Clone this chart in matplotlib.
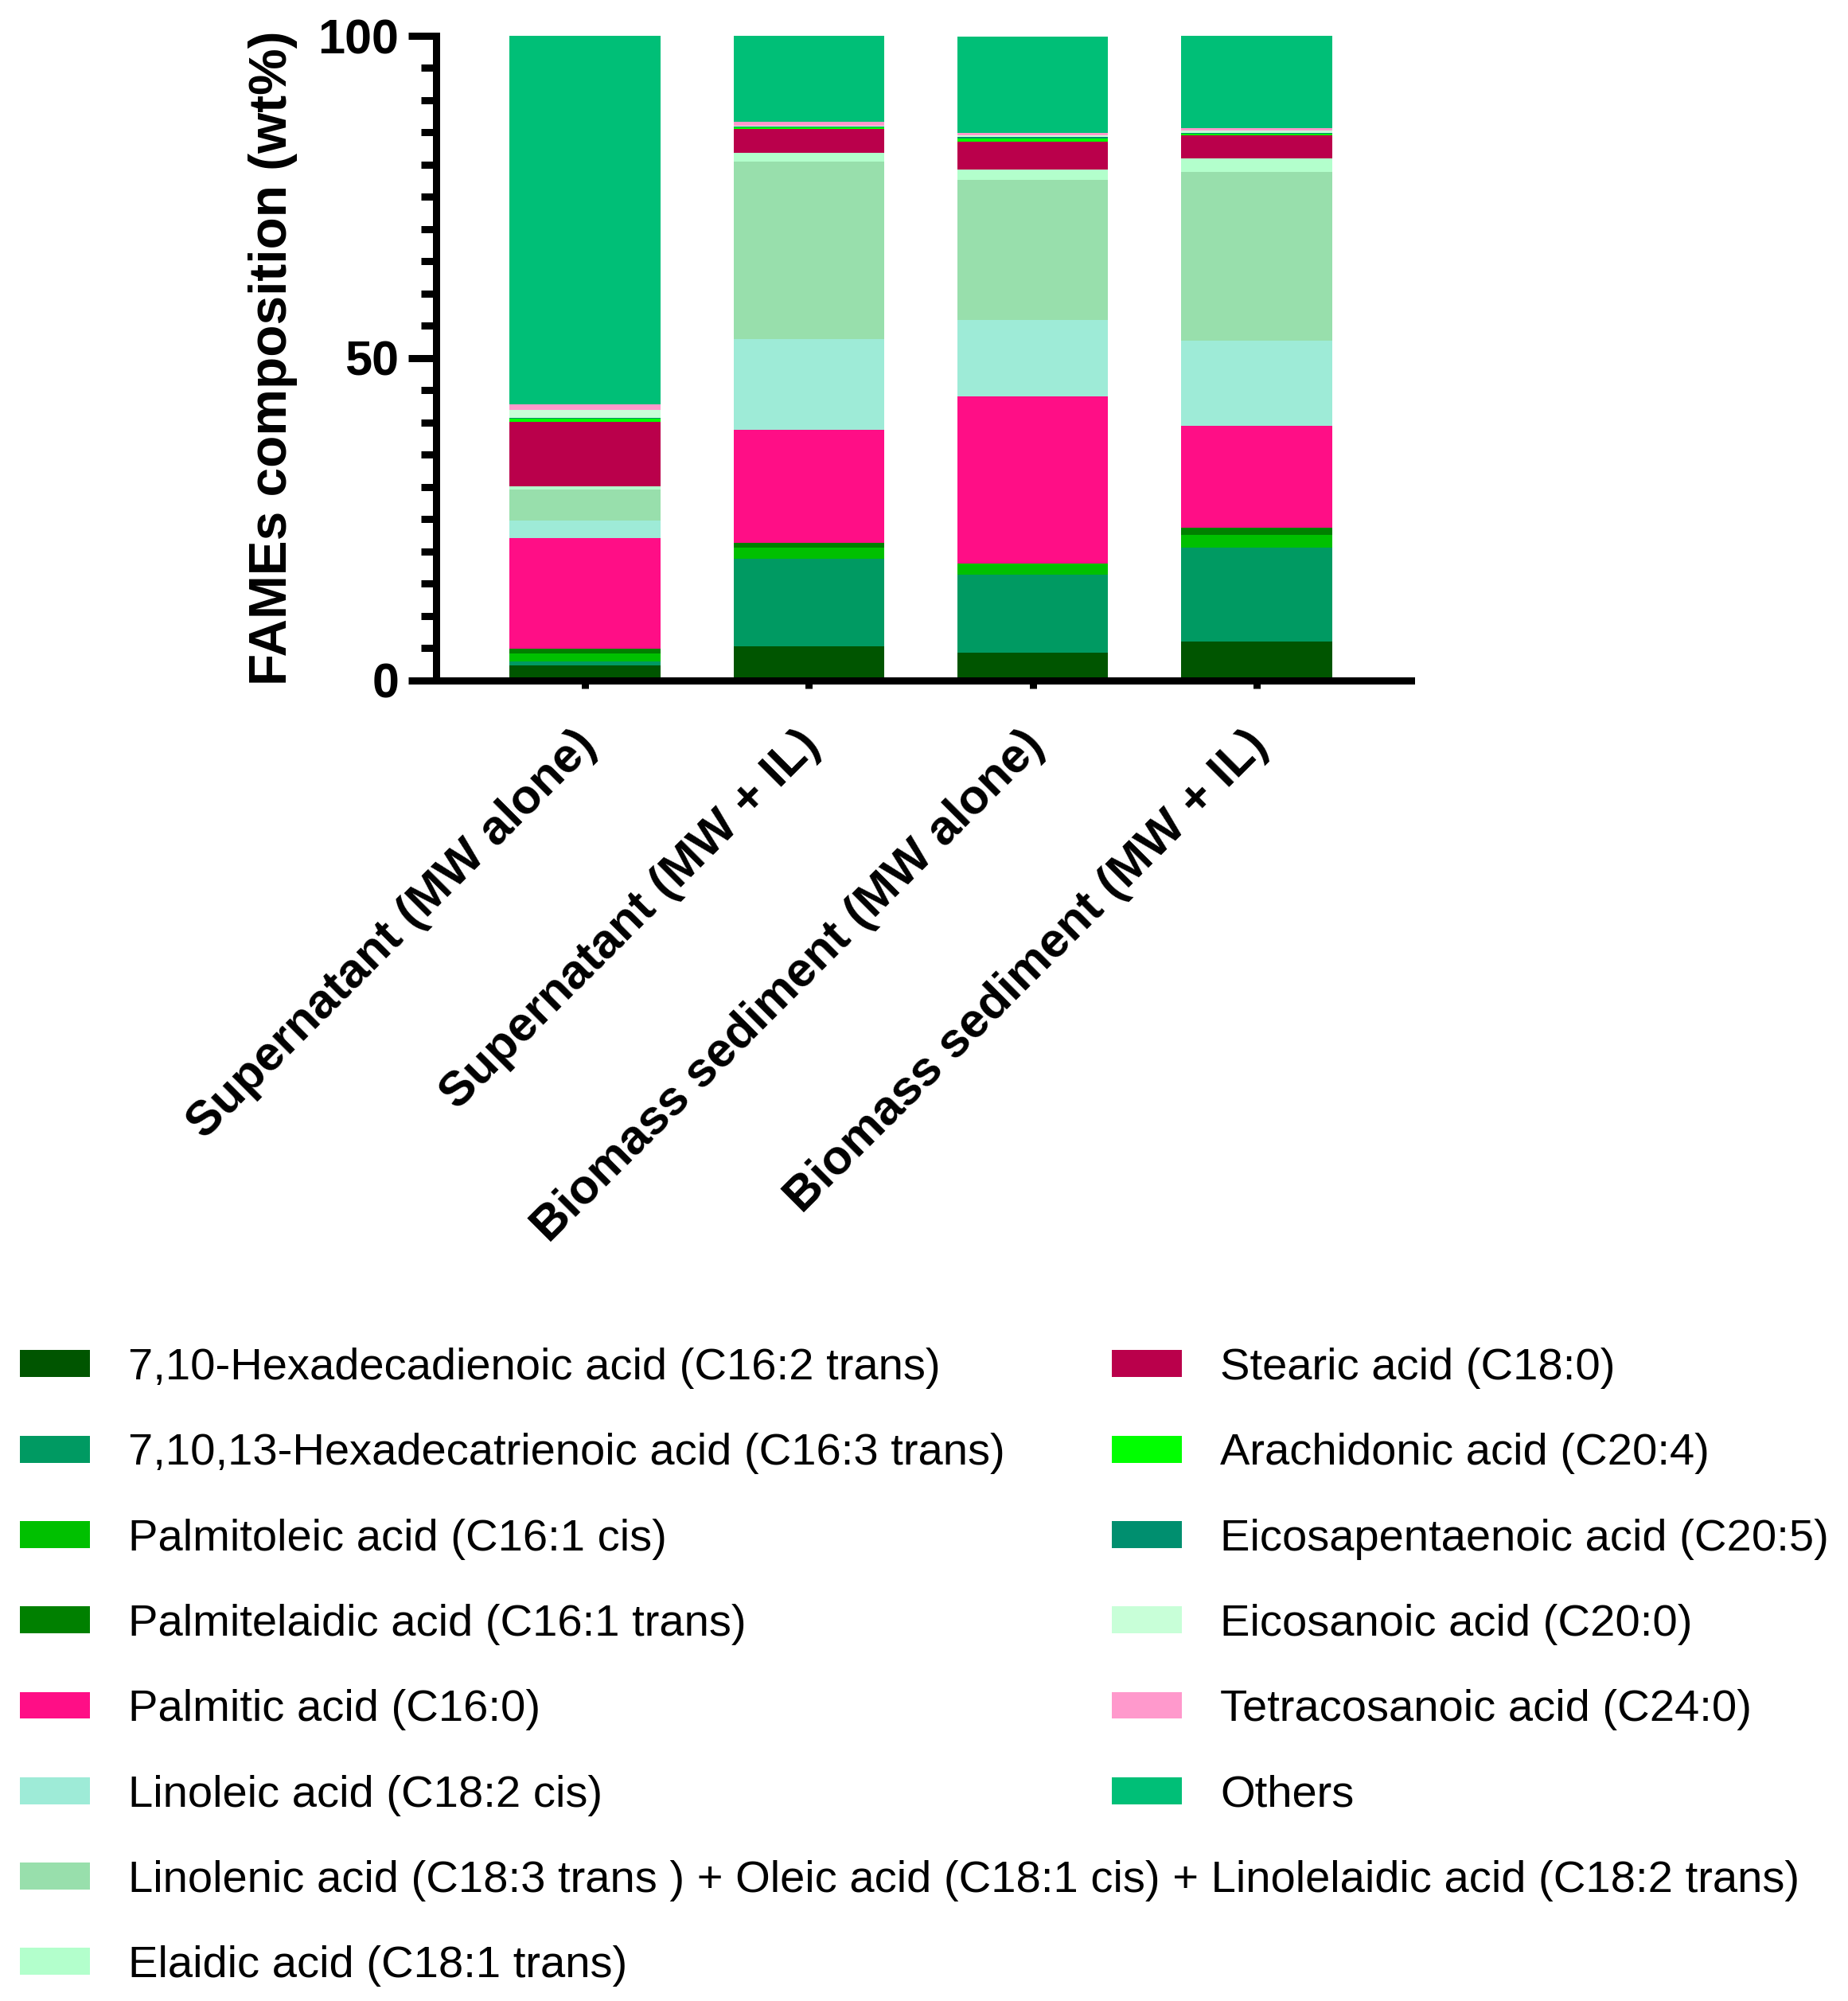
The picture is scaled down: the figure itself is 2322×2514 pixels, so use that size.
import numpy as np
import matplotlib
matplotlib.use("Agg")
import matplotlib.pyplot as plt
from matplotlib.ticker import MultipleLocator
from matplotlib.transforms import ScaledTranslation

plt.rcParams['font.family'] = ['Liberation Sans', 'DejaVu Sans']

# samples (x categories)
samples = ['Supernatant (MW alone)', 'Supernatant (MW + IL)',
           'Biomass sediment (MW alone)', 'Biomass sediment (MW + IL)']

# FAME composition, wt%, stacked bottom -> top
c16_2_trans = [2.25, 5.19, 4.23, 5.94]
c16_3_trans = [0.60, 13.60, 12.16, 14.69]
c16_1_cis = [1.23, 1.78, 1.71, 1.91]
c16_1_trans = [0.82, 0.68, 0.00, 1.09]
c16_0 = [17.20, 17.60, 25.96, 15.90]
c18_2_cis = [2.73, 14.07, 11.82, 13.10]
c18_3_mix = [4.78, 27.60, 21.70, 26.30]
c18_1_trans = [0.48, 1.36, 1.71, 2.10]
c18_0 = [9.97, 3.70, 4.32, 3.58]
c20_4 = [0.53, 0.25, 0.49, 0.25]
c20_5 = [0.12, 0.12, 0.25, 0.12]
c20_0 = [1.19, 0.12, 0.25, 0.37]
c24_0 = [0.86, 0.62, 0.37, 0.37]
others = [57.24, 13.31, 14.93, 14.28]

names = ['7,10-Hexadecadienoic acid (C16:2 trans)',
         '7,10,13-Hexadecatrienoic acid (C16:3 trans)',
         'Palmitoleic acid (C16:1 cis)',
         'Palmitelaidic acid (C16:1 trans)',
         'Palmitic acid (C16:0)',
         'Linoleic acid (C18:2 cis)',
         'Linolenic acid (C18:3 trans ) + Oleic acid (C18:1 cis) + Linolelaidic acid (C18:2 trans)',
         'Elaidic acid (C18:1 trans)',
         'Stearic acid (C18:0)',
         'Arachidonic acid (C20:4)',
         'Eicosapentaenoic acid (C20:5)',
         'Eicosanoic acid (C20:0)',
         'Tetracosanoic acid (C24:0)',
         'Others']

series = [c16_2_trans, c16_3_trans, c16_1_cis, c16_1_trans, c16_0, c18_2_cis,
          c18_3_mix, c18_1_trans, c18_0, c20_4, c20_5, c20_0, c24_0, others]

colors = ['#005500', '#009A62', '#00C000', '#008000', '#FF0E86', '#9EEBD7',
          '#98DFAC', '#B3FFCC', '#BA004B', '#00FF00', '#008F6F', '#C8FFD8',
          '#FF99CC', '#00BF77']

fig = plt.figure(figsize=(11.61, 12.57), dpi=200)
ax = fig.add_axes([0.236, 0.6601, 0.5276, 0.322])

x = np.arange(len(samples))
bottom = np.zeros(len(samples))
bars = []
for vals, col in zip(series, colors):
    b = ax.bar(x, vals, 0.674, bottom=bottom, color=col, linewidth=0)
    bars.append(b)
    bottom += np.array(vals)

ax.set_xlim(-0.665, 3.69)
ax.set_ylim(0, 100)

lw = 3.24
for s in ['top', 'right']:
    ax.spines[s].set_visible(False)
for s in ['left', 'bottom']:
    ax.spines[s].set_linewidth(lw)

ax.set_yticks([0, 50, 100])
ax.yaxis.set_minor_locator(MultipleLocator(5))
ax.tick_params(axis='y', which='major', length=12.6, width=lw, labelsize=22, pad=4.3)
ax.tick_params(axis='y', which='minor', length=6.8, width=lw)
ax.tick_params(axis='x', which='major', length=3.6, width=lw, labelsize=22, pad=15.5)
for t in ax.get_yticklabels():
    t.set_fontweight('bold')

ax.set_ylabel('FAMEs composition (wt%)', fontsize=23.7, fontweight='bold', labelpad=9)

ax.set_xticks(x)
ax.set_xticklabels(samples, rotation=45, ha='right', va='top',
                   rotation_mode='anchor', fontsize=22, fontweight='bold')
shift = ScaledTranslation(-15 / 200, 0, fig.dpi_scale_trans)
for t in ax.get_xticklabels():
    t.set_transform(t.get_transform() + shift)

leg_kw = dict(loc='upper left', frameon=False, fontsize=20.2, handlelength=1.56,
              handleheight=0.55, handletextpad=0.87, labelspacing=0.985,
              borderpad=0, borderaxespad=0)
fig.legend(bars[:8], names[:8], bbox_to_anchor=(25 / 2322, 0.3265), **leg_kw)
fig.legend(bars[8:], names[8:], bbox_to_anchor=(1397 / 2322, 0.3265), **leg_kw)

fig.savefig('out.png', dpi=200)
